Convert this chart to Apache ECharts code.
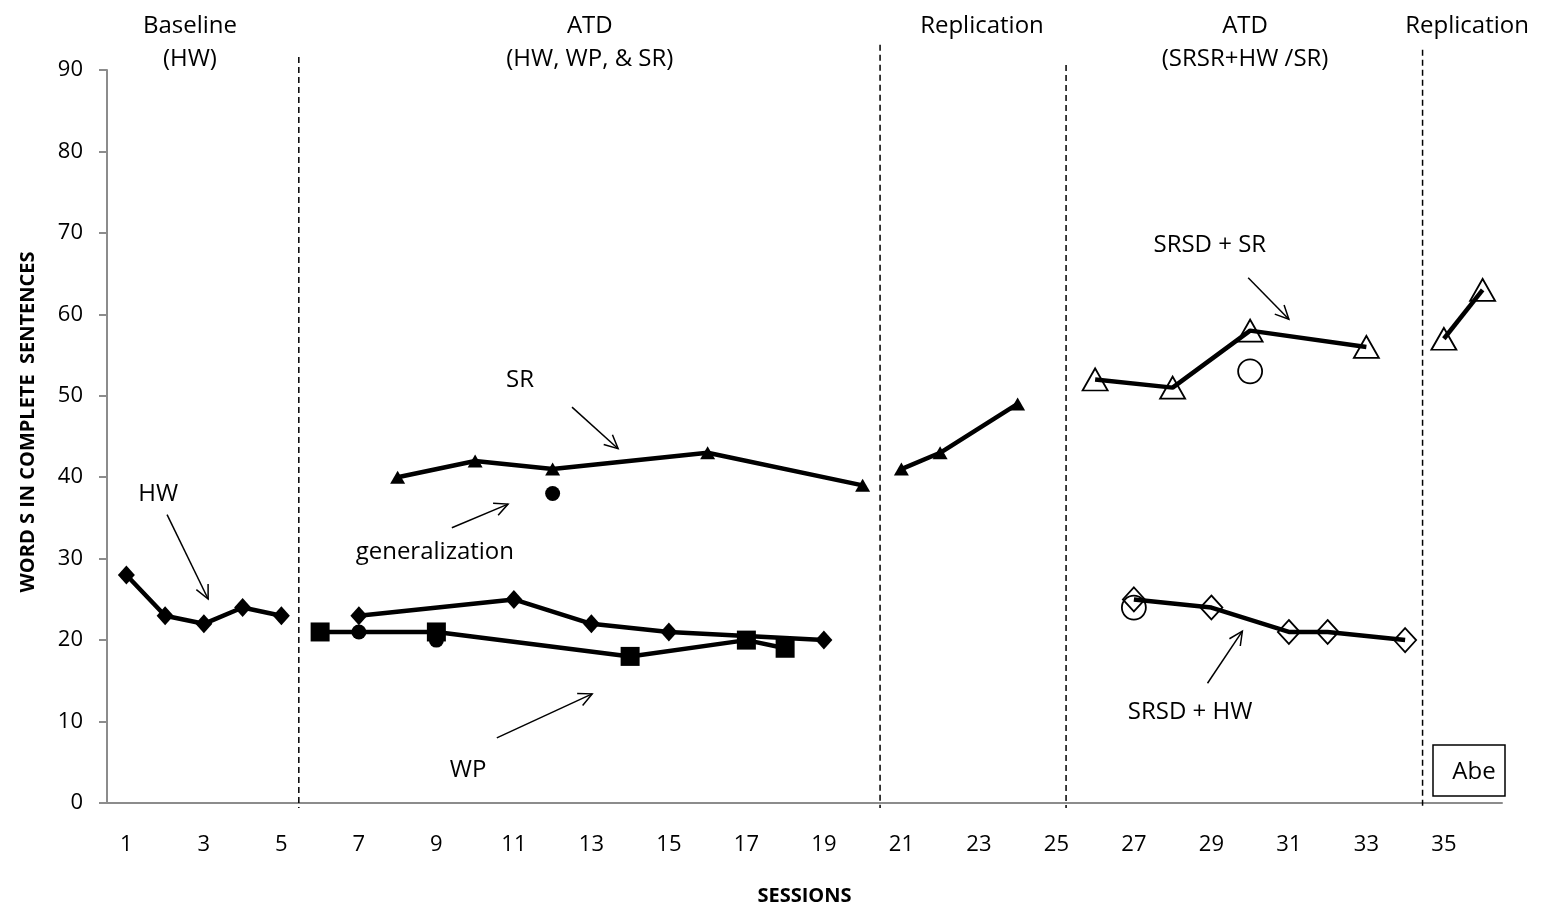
<!DOCTYPE html>
<html>
<head>
<meta charset="utf-8">
<script src="https://cdn.jsdelivr.net/npm/echarts@6/dist/echarts.min.js"></script>
<style>
html, body { margin: 0; padding: 0; background: #fff; }
#main { width: 1543px; height: 915px; }
</style>
</head>
<body>
<div id="main"></div>
<script>
// sessions on the x axis
var sessionLabels = ['1','2','3','4','5','6','7','8','9','10','11','12','13','14','15','16','17','18',
  '19','20','21','22','23','24','25','26','27','28','29','30','31','32','33','34','35','36'];

// baseline HW
var hwBaseSessions = [1, 2, 3, 4, 5];
var hwBaseWords = [28, 23, 22, 24, 23];
// ATD phase
var hwAtdSessions = [7, 11, 13, 15, 19];
var hwAtdWords = [23, 25, 22, 21, 20];
var wpAtdSessions = [6, 9, 14, 17, 18];
var wpAtdWords = [21, 21, 18, 20, 19];
var srAtdSessions = [8, 10, 12, 16, 20];
var srAtdWords = [40, 42, 41, 43, 39];
var genSessions = [7, 9, 12];
var genWords = [21, 20, 38];
// replication
var srRepSessions = [21, 22, 24];
var srRepWords = [41, 43, 49];
// ATD with SRSD
var srsdSrSessions = [26, 28, 30, 33];
var srsdSrWords = [52, 51, 58, 56];
var srsdHwSessions = [27, 29, 31, 32, 34];
var srsdHwWords = [25, 24, 21, 21, 20];
var gen2Sessions = [27, 30];
var gen2Words = [24, 53];
// second replication
var srsdRepSessions = [35, 36];
var srsdRepWords = [57, 63];

// phase change lines and titles
var phaseLineAt = [5.45, 20.45, 25.25, 34.45];
var phaseLineTop = [91.6, 93.1, 90.6, 92.5];
var phaseTitles = ['Baseline\n(HW)', 'ATD\n(HW, WP, & SR)', 'Replication', 'ATD\n(SRSR+HW /SR)', 'Replication'];
var phaseTitleAt = [2.64, 12.96, 23.08, 29.87, 35.6];

// labels with arrows
var noteTexts = ['HW', 'SR', 'generalization', 'WP', 'SRSD + SR', 'SRSD + HW'];
var notePos = [[1.82, 37.9], [11.16, 51.9], [8.96, 30.8], [9.82, 4.05], [28.96, 68.5], [28.45, 11.2]];
var arrowFrom = [[2.05, 35.4], [12.5, 48.6], [9.4, 33.8], [10.56, 8.0], [29.95, 64.5], [28.9, 14.7]];
var arrowTo = [[3.11, 25.05], [13.69, 43.5], [10.85, 36.7], [13.02, 13.4], [31.0, 59.4], [29.8, 21.1]];

var FONT = '"Open Sans", "DejaVu Sans", sans-serif';

function pairs(xs, ys) {
  return xs.map(function (x, i) { return [x, ys[i]]; });
}

function lineSeries(xs, ys, symbol, size, open) {
  return {
    type: 'line',
    xAxisIndex: 1,
    data: pairs(xs, ys),
    symbol: symbol,
    symbolSize: size,
    lineStyle: { color: '#000', width: 4.5 },
    itemStyle: open ? { color: 'rgba(0,0,0,0)', borderColor: '#000', borderWidth: 1.8 } : { color: '#000' },
    emphasis: { disabled: true },
    z: 3
  };
}

function dotSeries(xs, ys, size, open) {
  return {
    type: 'scatter',
    xAxisIndex: 1,
    data: pairs(xs, ys),
    symbol: 'circle',
    symbolSize: size,
    itemStyle: open ? { color: 'rgba(0,0,0,0)', borderColor: '#000', borderWidth: 1.8, opacity: 1 } : { color: '#000', opacity: 1 },
    emphasis: { disabled: true },
    z: 4
  };
}

function renderArrow(params, api) {
  var a = api.coord([api.value(0), api.value(1)]);
  var b = api.coord([api.value(2), api.value(3)]);
  var ang = Math.atan2(b[1] - a[1], b[0] - a[0]);
  var len = 15, spread = 0.45;
  var h1 = [b[0] - len * Math.cos(ang - spread), b[1] - len * Math.sin(ang - spread)];
  var h2 = [b[0] - len * Math.cos(ang + spread), b[1] - len * Math.sin(ang + spread)];
  return {
    type: 'group',
    children: [
      { type: 'line', shape: { x1: a[0], y1: a[1], x2: b[0], y2: b[1] }, style: { stroke: '#000', lineWidth: 1.5 } },
      { type: 'polyline', shape: { points: [h1, b, h2] }, style: { stroke: '#000', lineWidth: 1.5, fill: null } }
    ]
  };
}

function renderNote(params, api) {
  var p = api.coord([api.value(0), api.value(1)]);
  return {
    type: 'text', x: p[0], y: p[1],
    style: { text: noteTexts[params.dataIndex], fill: '#000', font: '24px ' + FONT, align: 'center', verticalAlign: 'middle' }
  };
}

function renderTitle(params, api) {
  var p = api.coord([api.value(0), api.value(1)]);
  return {
    type: 'text', x: p[0], y: p[1],
    style: { text: phaseTitles[params.dataIndex], fill: '#000', font: '24px ' + FONT, lineHeight: 33, align: 'center', verticalAlign: 'top' }
  };
}

function renderPhaseLine(params, api) {
  var top = api.coord([api.value(0), api.value(1)]);
  var bot = api.coord([api.value(0), -0.6]);
  return {
    type: 'line', shape: { x1: top[0], y1: top[1], x2: bot[0], y2: bot[1] },
    style: { stroke: '#000', lineWidth: 1.5, lineDash: [6, 4] }
  };
}

var myChart = echarts.init(document.getElementById('main'));
var option = {
  animation: false,
  backgroundColor: '#fff',
  grid: { left: 107, right: 41, top: 70, bottom: 112 },
  xAxis: [{
    type: 'category',
    data: sessionLabels,
    boundaryGap: true,
    name: 'SESSIONS',
    nameLocation: 'middle',
    nameGap: 83,
    nameTextStyle: { color: '#000', fontFamily: FONT, fontWeight: 'bold', fontSize: 20 },
    axisLine: { lineStyle: { color: '#8c8c8c', width: 2 } },
    axisTick: { interval: 0, length: 7, lineStyle: { color: '#8c8c8c', width: 2 } },
    axisLabel: { interval: 1, margin: 31, color: '#000', fontFamily: FONT, fontSize: 22 },
    splitLine: { show: false }
  }, {
    type: 'value',
    min: 0.5,
    max: 36.5,
    show: false
  }],
  yAxis: {
    type: 'value',
    min: 0,
    max: 90,
    interval: 10,
    axisLine: { show: true, lineStyle: { color: '#8c8c8c', width: 2 } },
    axisTick: { show: true, length: 8, lineStyle: { color: '#8c8c8c', width: 2 } },
    axisLabel: { margin: 24, color: '#000', fontFamily: FONT, fontSize: 22 },
    splitLine: { show: false }
  },
  graphic: [{
    type: 'text',
    x: 28, y: 422, rotation: Math.PI / 2,
    style: { text: 'WORD S IN COMPLETE  SENTENCES', fill: '#000', font: 'bold 20px ' + FONT, align: 'center', verticalAlign: 'middle' }
  }, {
    type: 'rect',
    shape: { x: 1433, y: 745, width: 72, height: 51 },
    style: { fill: '#fff', stroke: '#000', lineWidth: 1.5 }
  }, {
    type: 'text',
    x: 1474, y: 772,
    style: { text: 'Abe', fill: '#000', font: '24px ' + FONT, align: 'center', verticalAlign: 'middle' }
  }],
  series: [
    {
      type: 'custom', xAxisIndex: 1, clip: false, silent: true, z: 1,
      data: phaseLineAt.map(function (x, i) { return [x, phaseLineTop[i]]; }),
      renderItem: renderPhaseLine
    },
    {
      type: 'custom', xAxisIndex: 1, clip: false, silent: true, z: 5,
      data: phaseTitleAt.map(function (x) { return [x, 97.4]; }),
      renderItem: renderTitle
    },
    {
      type: 'custom', xAxisIndex: 1, clip: false, silent: true, z: 5,
      data: notePos,
      renderItem: renderNote
    },
    {
      type: 'custom', xAxisIndex: 1, clip: false, silent: true, z: 5,
      data: arrowFrom.map(function (p, i) { return p.concat(arrowTo[i]); }),
      encode: { x: [0, 2], y: [1, 3] },
      renderItem: renderArrow
    },
    lineSeries(hwBaseSessions, hwBaseWords, 'diamond', [17, 19], false),
    lineSeries(hwAtdSessions, hwAtdWords, 'diamond', [17, 19], false),
    lineSeries(wpAtdSessions, wpAtdWords, 'rect', [19, 19], false),
    lineSeries(srAtdSessions, srAtdWords, 'triangle', [15, 13], false),
    lineSeries(srRepSessions, srRepWords, 'triangle', [15, 13], false),
    lineSeries(srsdSrSessions, srsdSrWords, 'triangle', [25, 22], true),
    lineSeries(srsdHwSessions, srsdHwWords, 'diamond', [22, 24], true),
    lineSeries(srsdRepSessions, srsdRepWords, 'triangle', [25, 22], true),
    dotSeries(genSessions, genWords, 15, false),
    dotSeries(gen2Sessions, gen2Words, 24, true)
  ]
};
myChart.setOption(option, true);
</script>
</body>
</html>
